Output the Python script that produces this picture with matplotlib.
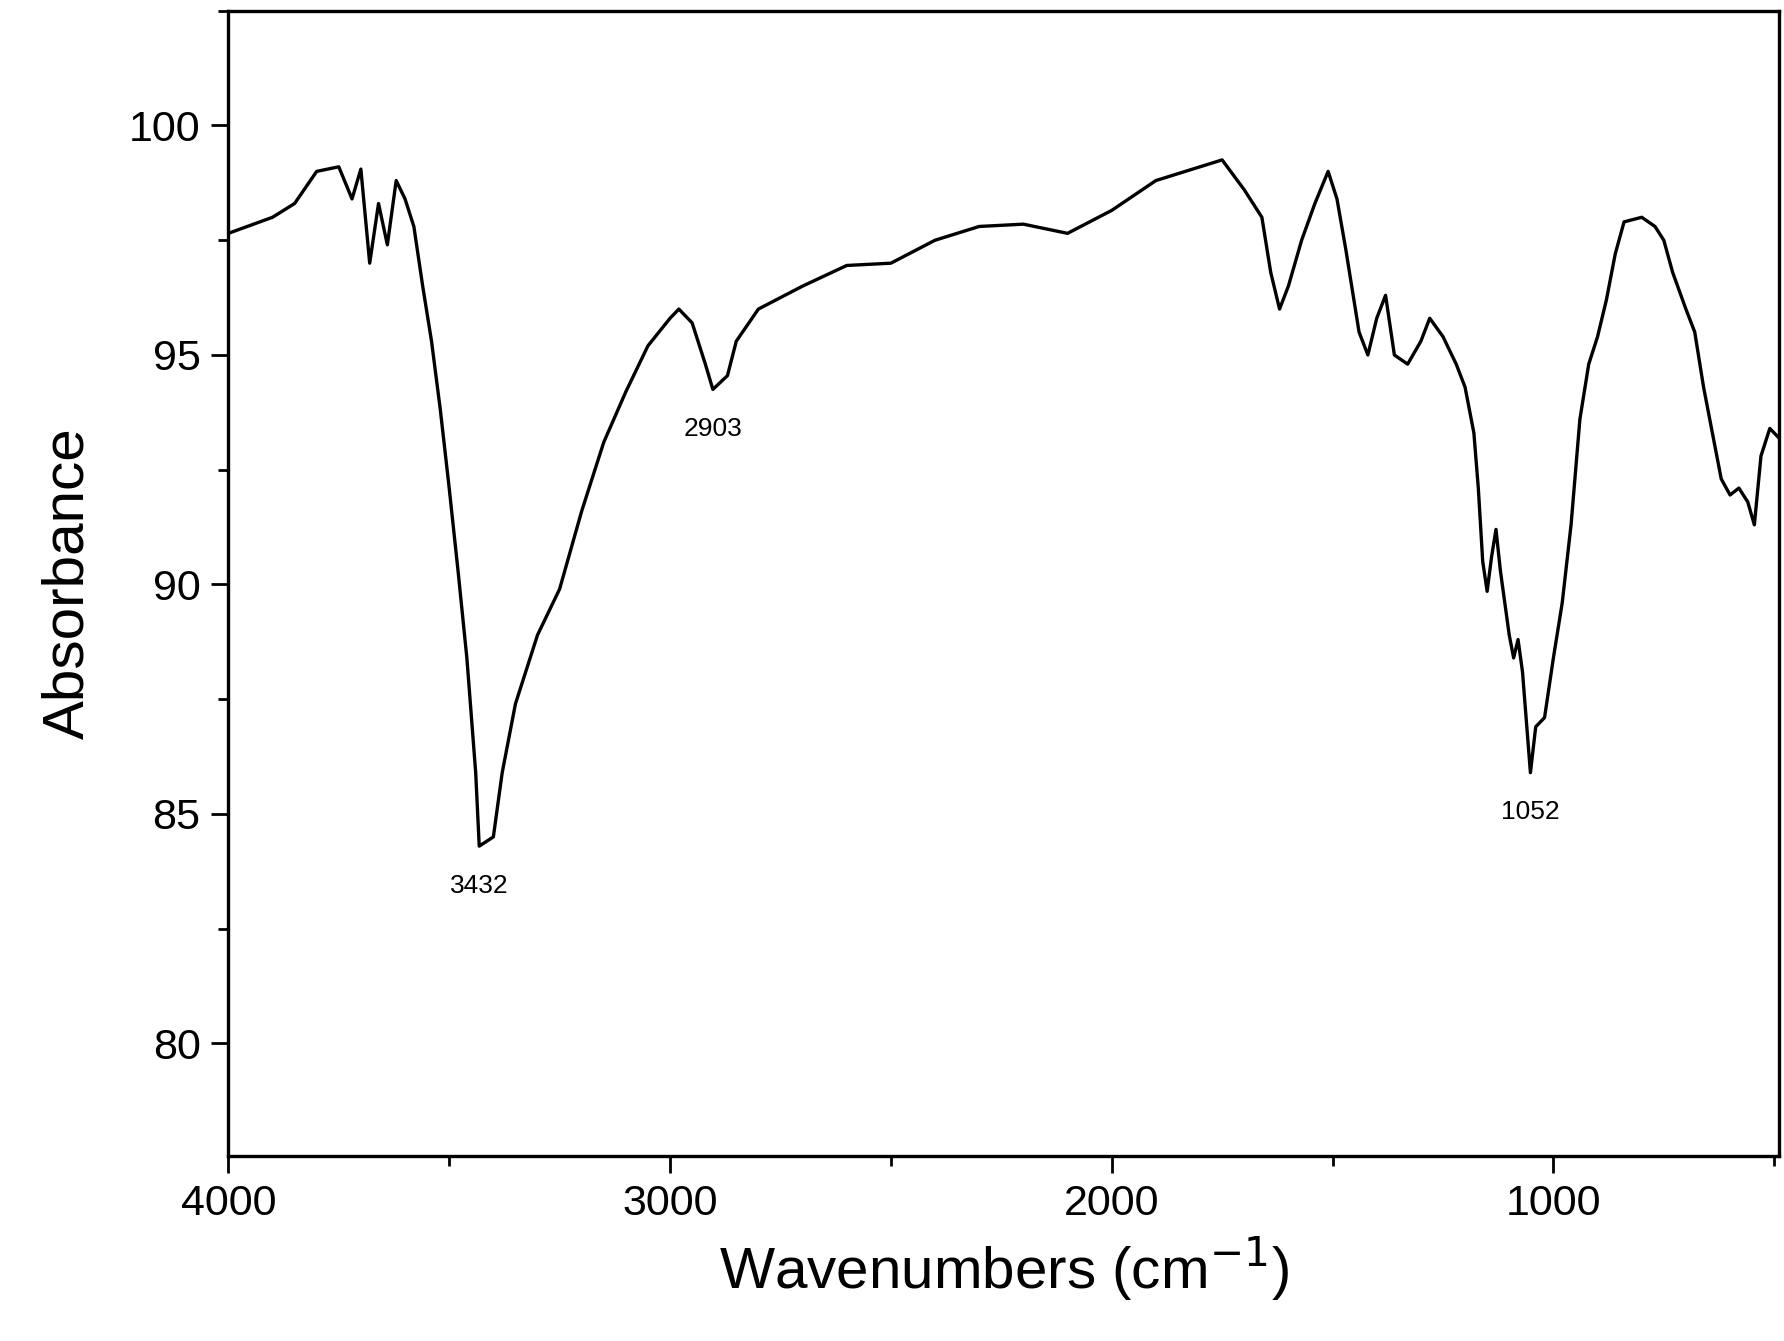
import matplotlib
matplotlib.use("Agg")
import matplotlib.pyplot as plt
from matplotlib.ticker import MultipleLocator

wavenumber = [4000,3900,3850,3800,3750,3720,3700,3680,3660,3640,3620,3600,3580,3560,3540,3520,3500,3480,3460,3440,3432,3400,3380,3350,3300,3250,3200,3150,3100,3050,3000,2980,2950,2920,2903,2870,2850,2800,2700,2600,2500,2400,2300,2200,2100,2000,1900,1800,1750,1700,1660,1640,1620,1600,1570,1540,1510,1490,1470,1440,1420,1400,1380,1360,1330,1300,1280,1250,1220,1200,1180,1170,1160,1150,1140,1130,1120,1100,1090,1080,1070,1052,1040,1020,1000,980,960,940,920,900,880,860,840,800,770,750,730,700,680,660,640,620,600,580,560,545,530,510,490]
absorbance = [97.65,98.0,98.3,99.0,99.1,98.4,99.05,97.0,98.3,97.4,98.8,98.4,97.8,96.5,95.3,93.8,92.1,90.3,88.4,85.9,84.3,84.5,85.9,87.4,88.9,89.9,91.6,93.1,94.2,95.2,95.8,96.0,95.7,94.8,94.25,94.55,95.3,96.0,96.5,96.95,97.0,97.5,97.8,97.85,97.65,98.15,98.8,99.1,99.25,98.6,98.0,96.8,96.0,96.5,97.5,98.3,99.0,98.4,97.3,95.5,95.0,95.8,96.3,95.0,94.8,95.3,95.8,95.4,94.8,94.3,93.3,92.1,90.5,89.85,90.6,91.2,90.3,88.9,88.4,88.8,88.1,85.9,86.9,87.1,88.4,89.6,91.3,93.6,94.8,95.4,96.2,97.2,97.9,98.0,97.8,97.5,96.8,96.0,95.5,94.3,93.3,92.3,91.95,92.1,91.8,91.3,92.8,93.4,93.2]
peak_labels = ["3432", "2903", "1052"]
peak_x = [3432, 2903, 1052]
peak_y = [84.3, 94.25, 85.9]

plt.rcParams['font.family'] = ['Liberation Sans', 'DejaVu Sans']
fig = plt.figure(figsize=(17.84, 13.41), dpi=100)
ax = fig.add_axes([0.128, 0.138, 0.869, 0.854])
ax.plot(wavenumber, absorbance, color='black', lw=2.4)
for t, x, y in zip(peak_labels, peak_x, peak_y):
    ax.annotate(t, (x, y), xytext=(0, -20), textcoords='offset points', ha='center', va='top', fontsize=19)
ax.set_xlim(4000, 490)
ax.set_ylim(77.55, 102.5)
ax.xaxis.set_major_locator(MultipleLocator(1000))
ax.xaxis.set_minor_locator(MultipleLocator(500))
ax.yaxis.set_major_locator(MultipleLocator(5))
ax.yaxis.set_minor_locator(MultipleLocator(2.5))
ax.tick_params(which='major', direction='out', length=12, width=2, labelsize=31, pad=8)
ax.tick_params(which='minor', direction='out', length=7, width=2)
for s in ax.spines.values():
    s.set_linewidth(2.4)
ax.set_xlabel('Wavenumbers (cm$^{-1}$)', fontsize=42, labelpad=8)
ax.set_ylabel('Absorbance', fontsize=42, labelpad=24)
fig.savefig('out.png', dpi=100)
